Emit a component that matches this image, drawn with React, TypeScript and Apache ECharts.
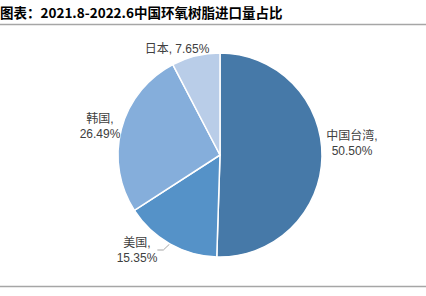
import React, { useEffect, useRef } from "react";
import * as echarts from "echarts";

const titleText = "图表：2021.8-2022.6中国环氧树脂进口量占比";
const categories = ["中国台湾", "美国", "韩国", "日本"];
const shares = [50.5, 15.35, 26.49, 7.65];
const colors = ["#4679a8", "#5592c8", "#85aedb", "#b9cde8"];
const oneLineLabel = [false, false, false, true];
const showLine = [false, true, false, false];
const labelPos = [
  { x: 352, y: 143 },
  { x: 137, y: 250 },
  { x: 100, y: 126 },
  { x: 177, y: 49 },
];

export default function App() {
  const ref = useRef<HTMLDivElement>(null);
  useEffect(() => {
    if (!ref.current) return;
    const chart = echarts.init(ref.current, null, { renderer: "svg" });
    chart.setOption({
      animation: false,
      backgroundColor: "#ffffff",
      graphic: [
        {
          type: "text",
          left: 0,
          top: 5,
          style: {
            text: titleText,
            font: "bold 13.5px 'Noto Sans CJK SC'",
            fill: "#000000",
          },
        },
        {
          type: "line",
          shape: { x1: 0, y1: 24.5, x2: 426, y2: 24.5 },
          style: { stroke: "#a6a6a6", lineWidth: 1.5 },
        },
        {
          type: "line",
          shape: { x1: 0, y1: 286.5, x2: 426, y2: 286.5 },
          style: { stroke: "#a6a6a6", lineWidth: 1.5 },
        },
      ],
      series: [
        {
          type: "pie",
          center: [220, 155],
          radius: 102,
          startAngle: 90,
          clockwise: true,
          itemStyle: { borderColor: "#ffffff", borderWidth: 1.5 },
          label: {
            show: true,
            position: "outside",
            color: "#404040",
            fontSize: 12,
            lineHeight: 15,
            fontFamily: "'Liberation Sans', 'Noto Sans CJK SC'",
            align: "center",
            formatter: (p: any) =>
              oneLineLabel[p.dataIndex]
                ? `${p.name}, ${p.value.toFixed(2)}%`
                : `${p.name},\n${p.value.toFixed(2)}%`,
          },
          labelLine: {
            length: 4,
            length2: 6,
            lineStyle: { color: "#a6a6a6", width: 1 },
          },
          labelLayout: (params: any) => ({
            x: labelPos[params.dataIndex].x,
            y: labelPos[params.dataIndex].y,
            align: "center",
            verticalAlign: "middle",
          }),
          emphasis: { disabled: true },
          data: categories.map((name, i) => ({
            name,
            value: shares[i],
            itemStyle: { color: colors[i] },
            labelLine: { show: showLine[i] },
          })),
        },
      ],
    });
    return () => chart.dispose();
  }, []);
  return (
    <div
      ref={ref}
      style={{ position: "fixed", left: 0, top: 0, width: 426, height: 296 }}
    />
  );
}
